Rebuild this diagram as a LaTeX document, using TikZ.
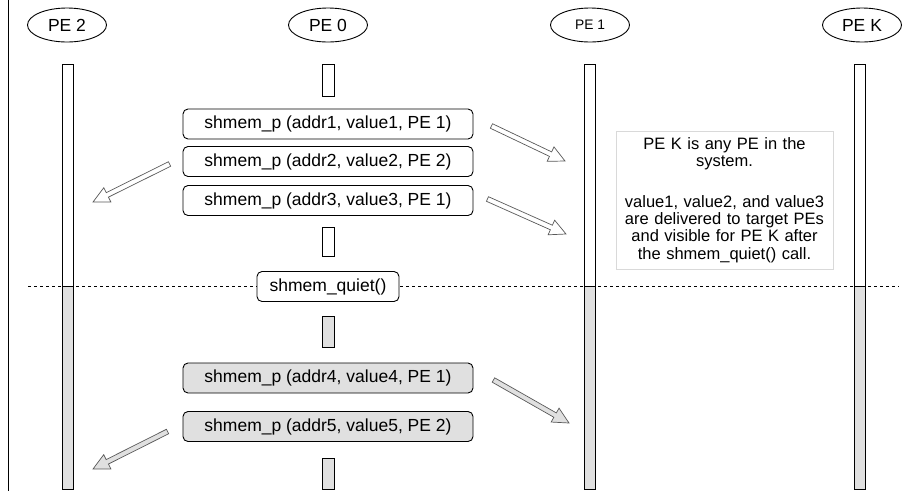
\documentclass[tikz,border=0pt]{standalone}
\usepackage{fontspec}
\setmainfont{Liberation Sans}
\usetikzlibrary{shapes.geometric,calc}

\tikzset{
  pe/.style = {draw, ellipse, line width=0.9pt, minimum width=79, minimum height=34, inner sep=0pt, font=\fontsize{17.5}{20}\selectfont},
  call/.style = {draw, rounded corners=5, line width=0.9pt, minimum width=290, minimum height=30, inner sep=0pt, font=\fontsize{17.5}{20}\selectfont},
  busy/.style = {fill=black!12},
  bar/.style = {draw, line width=0.9pt},
  flow/.style = {draw=black!65, fill=white, line width=0.7pt, line join=miter},
}
\newcommand\flexarrow[3]{% tail, tip, extra style
  \coordinate (fa-b) at ($(#2)!16pt!(#1)$);
  \draw[flow,#3] ($(#1)!2.5pt!90:(#2)$) -- ($(fa-b)!2.5pt!90:(#2)$) -- ($(fa-b)!8pt!90:(#2)$) -- (#2)
    -- ($(fa-b)!8pt!-90:(#2)$) -- ($(fa-b)!2.5pt!-90:(#2)$) -- ($(#1)!2.5pt!-90:(#2)$) -- cycle;}

\begin{document}
\begin{tikzpicture}[x=1pt, y=-1pt]
	\useasboundingbox (0,0) rectangle (902,491);
	\draw[line width=0.9pt] (8,0) -- (8,491);
	
	\node[pe] (pe2) at (67,25) {PE 2};
	\node[pe] (pe0) at (328,25) {PE 0};
	\node[pe, font=\fontsize{13.8}{16}\selectfont] (pe1) at (590,25) {PE 1};
	\node[pe] (pek) at (862,25) {PE K};
	
	\draw[dashed, line width=0.7pt] (28,286) -- (899,286);
	
	\foreach \x in {67.5,589.5,860} {
		\draw[bar, fill=white] (\x-5.5,64) rectangle (\x+5.5,286);
		\draw[bar, busy] (\x-5.5,286) rectangle (\x+5.5,489);
	}
	\draw[bar, fill=white] (322,64) rectangle (334,96);
	\draw[bar, fill=white] (322,227) rectangle (334,256);
	\draw[bar, busy] (322,316) rectangle (334,347);
	\draw[bar, busy] (322,458) rectangle (334,489);
	
	\node[call] (put1) at (328,124) {shmem\_p (addr1, value1, PE 1)};
	\node[call] (put2) at (328,161.5) {shmem\_p (addr2, value2, PE 2)};
	\node[call] (put3) at (328,200.5) {shmem\_p (addr3, value3, PE 1)};
	\node[call, fill=white, minimum width=142] (quiet) at (328,286.5) {shmem\_quiet()};
	\node[call, busy] (put4) at (328,378) {shmem\_p (addr4, value4, PE 1)};
	\node[call, busy] (put5) at (328,426.5) {shmem\_p (addr5, value5, PE 2)};
	
	\node[draw=black!15, anchor=north, text width=210, align=center, inner ysep=6.5pt,
		font=\fontsize{16.5}{17.3}\selectfont] (note) at (724.5,131)
		{PE K is any PE in the\\ system.\\[23pt] value1, value2, and value3\\ are delivered to target PEs\\ and visible for PE K after\\ the shmem\_quiet() call.};
	
	\coordinate (t1) at ($(put1.east)+(18,2)$);   \coordinate (h1) at (565,161);
	\coordinate (t2) at ($(put2.west)+(-13,2.5)$); \coordinate (h2) at (93,202);
	\coordinate (t3) at ($(put3.east)+(14,-1.5)$); \coordinate (h3) at (566,234);
	\coordinate (t4) at ($(put4.east)+(20,2)$);   \coordinate (h4) at (569,423);
	\coordinate (t5) at ($(put5.west)+(-15,5)$);  \coordinate (h5) at (93,469);
	
	\flexarrow{t1}{h1}{}
	\flexarrow{t2}{h2}{}
	\flexarrow{t3}{h3}{}
	\flexarrow{t4}{h4}{busy}
	\flexarrow{t5}{h5}{busy}
\end{tikzpicture}
\end{document}
